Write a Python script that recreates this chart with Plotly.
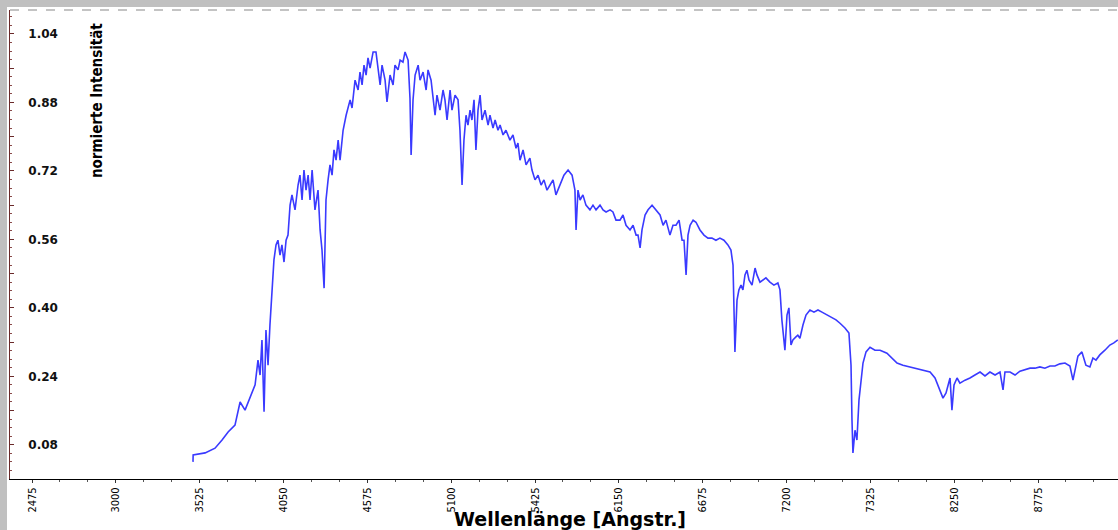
import plotly.graph_objects as go

# Spektrum: Wellenlänge (Angstr.) und normierte Intensität
wavelength = [
    3483, 3484, 3559, 3621, 3665, 3703, 3746, 3778, 3809, 3840,
    3872, 3890, 3903, 3915, 3928, 3940, 3953, 3965, 3978, 3990,
    4003, 4015, 4028, 4040, 4053, 4066, 4078, 4091, 4103, 4122,
    4141, 4153, 4166, 4178, 4191, 4204, 4216, 4229, 4247, 4266,
    4279, 4291, 4304, 4316, 4329, 4341, 4354, 4366, 4379, 4392,
    4404, 4423, 4442, 4467, 4479, 4498, 4517, 4529, 4542, 4554,
    4567, 4579, 4592, 4611, 4629, 4642, 4655, 4667, 4686, 4698,
    4717, 4736, 4748, 4767, 4780, 4798, 4811, 4830, 4842, 4849,
    4861, 4874, 4893, 4905, 4924, 4943, 4955, 4974, 4986, 4999,
    5011, 5030, 5049, 5061, 5074, 5093, 5105, 5124, 5143, 5155,
    5168, 5180, 5193, 5205, 5218, 5230, 5243, 5255, 5268, 5281,
    5293, 5312, 5331, 5343, 5362, 5375, 5393, 5406, 5425, 5443,
    5468, 5487, 5506, 5518, 5531, 5550, 5569, 5593, 5606, 5625,
    5644, 5663, 5681, 5700, 5719, 5738, 5756, 5781, 5806, 5832,
    5857, 5875, 5882, 5894, 5907, 5925, 5944, 5969, 5988, 6007,
    6032, 6051, 6070, 6095, 6113, 6132, 6157, 6176, 6195, 6220,
    6239, 6258, 6270, 6283, 6295, 6314, 6333, 6358, 6383, 6408,
    6427, 6445, 6470, 6489, 6508, 6527, 6546, 6558, 6571, 6583,
    6596, 6615, 6633, 6658, 6683, 6708, 6733, 6758, 6783, 6808,
    6833, 6852, 6865, 6871, 6877, 6890, 6902, 6915, 6927, 6940,
    6952, 6965, 6984, 7003, 7015, 7034, 7053, 7071, 7096, 7121,
    7146, 7159, 7171, 7190, 7203, 7215, 7228, 7240, 7259, 7271,
    7284, 7303, 7322,
    7347, 7372, 7397, 7422, 7454, 7485, 7510, 7535, 7566, 7591,
    7604, 7610, 7616, 7629, 7641, 7654, 7666, 7679, 7698, 7723,
    7754, 7786, 7829, 7861, 7892, 7929, 7973, 8036, 8099, 8130,
    8161,
    8180, 8199, 8211, 8224, 8236, 8249, 8268, 8286, 8318, 8349,
    8380, 8412, 8443, 8474, 8506, 8537, 8556, 8568, 8600, 8631,
    8662, 8693, 8725, 8756, 8787, 8818, 8850, 8881, 8912, 8944,
    8975, 8994, 9006, 9025, 9050, 9075, 9100, 9119, 9138, 9162,
    9194, 9225, 9250, 9275,
]

intensity = [
    0.040, 0.056, 0.061, 0.072, 0.091, 0.110, 0.126, 0.180, 0.161, 0.192,
    0.220, 0.278, 0.243, 0.325, 0.157, 0.348, 0.266, 0.360, 0.442, 0.512,
    0.547, 0.558, 0.523, 0.547, 0.507, 0.558, 0.570, 0.640, 0.664, 0.629,
    0.687, 0.710, 0.652, 0.722, 0.675, 0.710, 0.652, 0.722, 0.629, 0.675,
    0.582, 0.535, 0.446, 0.652, 0.699, 0.734, 0.710, 0.769, 0.745, 0.792,
    0.745, 0.815, 0.850, 0.886, 0.867, 0.932, 0.909, 0.951, 0.921, 0.967,
    0.944, 0.984, 0.960, 0.998, 0.998, 0.956, 0.921, 0.967, 0.932, 0.881,
    0.944, 0.921, 0.967, 0.956, 0.979, 0.974, 0.998, 0.979, 0.890, 0.757,
    0.886, 0.944, 0.967, 0.932, 0.951, 0.909, 0.956, 0.932, 0.886, 0.850,
    0.897, 0.862, 0.909, 0.886, 0.839, 0.909, 0.862, 0.897, 0.886, 0.815,
    0.687, 0.792, 0.850, 0.827, 0.862, 0.839, 0.886, 0.769, 0.862, 0.897,
    0.839, 0.862, 0.827, 0.850, 0.820, 0.839, 0.815, 0.827, 0.804, 0.815,
    0.792, 0.804, 0.773, 0.785, 0.745, 0.769, 0.734, 0.750, 0.722, 0.699,
    0.710, 0.687, 0.699, 0.675, 0.687, 0.699, 0.664, 0.687, 0.710, 0.722,
    0.710, 0.675, 0.582, 0.675, 0.652, 0.664, 0.640, 0.629, 0.640, 0.629,
    0.640, 0.629, 0.624, 0.629, 0.624, 0.605, 0.605, 0.617, 0.593, 0.582,
    0.593, 0.570, 0.570, 0.540, 0.582, 0.617, 0.629, 0.640, 0.629, 0.617,
    0.593, 0.605, 0.570, 0.593, 0.593, 0.605, 0.558, 0.558, 0.477, 0.570,
    0.593, 0.605, 0.600, 0.582, 0.570, 0.563, 0.563, 0.558, 0.563, 0.558,
    0.547, 0.535, 0.500, 0.418, 0.297, 0.418, 0.442, 0.453, 0.442, 0.477,
    0.488, 0.465, 0.453, 0.493, 0.477, 0.460, 0.465, 0.470, 0.460, 0.453,
    0.458, 0.442, 0.372, 0.301, 0.383, 0.400, 0.313, 0.325, 0.332, 0.336,
    0.329, 0.360, 0.383,
    0.395, 0.390, 0.395, 0.390, 0.383, 0.376, 0.372, 0.364, 0.353, 0.341,
    0.266, 0.138, 0.061, 0.114, 0.091, 0.185, 0.231, 0.271, 0.297, 0.308,
    0.301, 0.301, 0.294, 0.283, 0.271, 0.266, 0.262, 0.257, 0.250, 0.236,
    0.208,
    0.189, 0.201, 0.220, 0.236, 0.161, 0.220, 0.236, 0.224, 0.231, 0.236,
    0.243, 0.250, 0.241, 0.250, 0.243, 0.250, 0.208, 0.250, 0.250, 0.243,
    0.252, 0.255, 0.259, 0.259, 0.262, 0.259, 0.264, 0.264, 0.269, 0.271,
    0.264, 0.231, 0.255, 0.287, 0.297, 0.266, 0.262, 0.283, 0.278, 0.290,
    0.301, 0.313, 0.318, 0.325,
]
assert len(wavelength) == len(intensity)

# Achsenbeschriftung wie im Original (auch die Ausreißer 5425 / 7325)
x_tick_vals = [2475, 3000, 3525, 4050, 4575, 5100, 5625, 6150, 6675, 7200, 7725, 8250, 8775]
x_tick_text = ["2475", "3000", "3525", "4050", "4575", "5100", "5425",
               "6150", "6675", "7200", "7325", "8250", "8775"]
y_tick_vals = [0.08, 0.24, 0.40, 0.56, 0.72, 0.88, 1.04]
y_tick_text = ["0.08", "0.24", "0.40", "0.56", "0.72", "0.88", "1.04"]

narrow = "Liberation Sans Narrow, DejaVu Sans Condensed, Arial Narrow, sans-serif"
y_range = [0, 1.096]

fig = go.Figure()
fig.add_trace(go.Scatter(
    x=wavelength, y=intensity, mode="lines",
    line=dict(color="#3a3aff", width=1.6),
    hoverinfo="x+y",
))
# leere Spur, damit die Beschriftungsachse y2 gezeichnet wird
fig.add_trace(go.Scatter(x=[None], y=[None], yaxis="y2", mode="lines",
                         showlegend=False, hoverinfo="skip"))

fig.update_layout(
    width=1111, height=523,
    margin=dict(l=3, r=0, t=3, b=51),
    paper_bgcolor="white", plot_bgcolor="white",
    showlegend=False,
    xaxis=dict(
        range=[2337, 9276], automargin=False,
        tickmode="array", tickvals=x_tick_vals, ticktext=x_tick_text,
        tickangle=-90,
        tickfont=dict(family=narrow, size=11, color="black"),
        ticks="outside", ticklen=3, tickcolor="#333333",
        minor=dict(tickmode="linear", tick0=2475, dtick=175, ticks="outside",
                   ticklen=2, tickcolor="#555555", showgrid=False),
        showline=True, linecolor="black", linewidth=1,
        showgrid=False, zeroline=False,
    ),
    # eigentliche y-Achse: Linie und Striche am linken Rand
    yaxis=dict(
        range=y_range, automargin=False,
        tickmode="linear", tick0=0.08, dtick=0.08,
        showticklabels=False,
        ticks="inside", ticklen=4, tickcolor="#6a2a2a",
        minor=dict(tickmode="linear", tick0=0, dtick=0.02, ticks="inside",
                   ticklen=2, tickcolor="#8a4a4a", showgrid=False),
        showline=True, linecolor="#6a2a2a", linewidth=1,
        showgrid=False, zeroline=False,
    ),
    # zweite y-Achse nur für die Beschriftung innerhalb der Zeichenfläche
    yaxis2=dict(
        range=y_range, automargin=False, overlaying="y",
        anchor="free", position=0.0433, side="left",
        tickmode="array", tickvals=y_tick_vals, ticktext=y_tick_text,
        tickfont=dict(family="DejaVu Sans", size=12, color="#111111", weight="bold"),
        ticks="", showline=False, showgrid=False, zeroline=False,
    ),
)

# Achsentitel
fig.add_annotation(
    text="normierte Intensität", textangle=-90,
    xref="paper", yref="paper", x=0.0785, y=0.808,
    xanchor="center", yanchor="middle",
    showarrow=False,
    font=dict(family=narrow, size=15, color="black", weight="bold"),
)
fig.add_annotation(
    text="<b>Wellenlänge [Angstr.]</b>",
    xref="paper", yref="paper", x=0.505, y=-0.0853,
    xanchor="center", yanchor="middle",
    showarrow=False,
    font=dict(family="DejaVu Sans", size=19, color="black"),
)

# gestrichelte Oberkante des Diagrammfensters
fig.add_shape(type="line", xref="paper", yref="paper",
              x0=0, x1=1, y0=1, y1=1,
              line=dict(color="#888888", width=1, dash="dash"))

# grauer Fensterrand links/oben: Seitenhintergrund grau, Grafik um 7 px versetzt
fig.write_html(
    "out.html",
    config={"displayModeBar": False},
    post_script="document.body.style.margin='7px 0 0 7px';"
                "document.body.style.background='#c0c0c0';",
)
